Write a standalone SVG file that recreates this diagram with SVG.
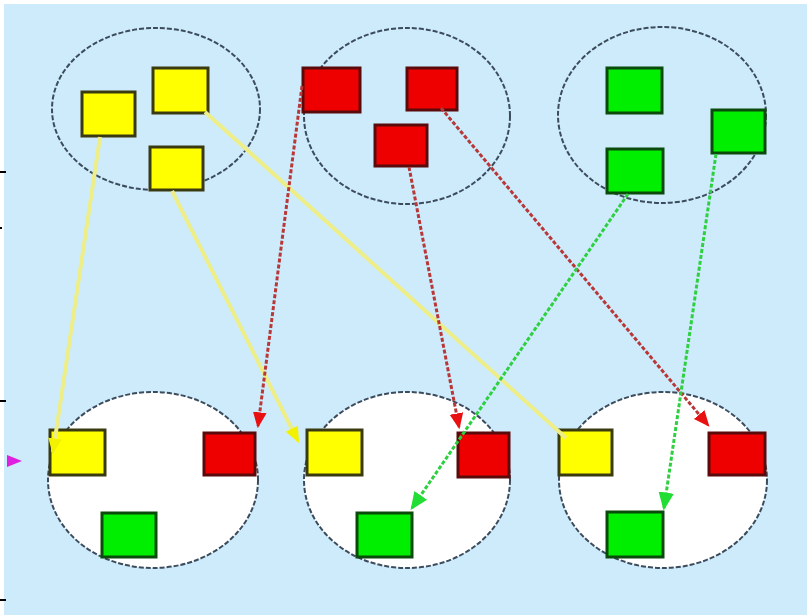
<svg xmlns="http://www.w3.org/2000/svg" width="807" height="615" viewBox="0 0 807 615">
<style>
.grp{fill:none;stroke:#3c4c5c;stroke-width:2;stroke-dasharray:5 2}
.grpw{fill:#ffffff;stroke:#3c4c5c;stroke-width:2;stroke-dasharray:5 2}
.y{fill:#ffff00;stroke:#3a3a10;stroke-width:3}
.r{fill:#ee0000;stroke:#5a0a0a;stroke-width:3}
.g{fill:#00ee00;stroke:#0a4a0a;stroke-width:3}
.cy{fill:none;stroke:#eeee88;stroke-width:4}
.cr{fill:none;stroke:#b83838;stroke-width:3;stroke-dasharray:4 2}
.cg{fill:none;stroke:#2ed040;stroke-width:3;stroke-dasharray:4 2}
.tick{stroke:#000000;stroke-width:2}
</style>
<defs>
<marker id="ay" markerWidth="16" markerHeight="16" refX="12" refY="6" orient="auto" markerUnits="userSpaceOnUse" viewBox="0 0 14 12"><path d="M0,0 L14,6 L0,12 Z" fill="#f2f200"/></marker>
<marker id="ar" markerWidth="16" markerHeight="16" refX="12" refY="6" orient="auto" markerUnits="userSpaceOnUse" viewBox="0 0 14 12"><path d="M0,0 L14,6 L0,12 Z" fill="#e81010"/></marker>
<marker id="ag" markerWidth="18" markerHeight="18" refX="12" refY="6" orient="auto" markerUnits="userSpaceOnUse" viewBox="0 0 14 12"><path d="M0,0 L14,6 L0,12 Z" fill="#22dd33"/></marker>
</defs>
<rect x="0" y="0" width="807" height="615" fill="#ffffff"/>
<rect x="4" y="4" width="803" height="611" fill="#cdebfb"/>
<g id="ticks">
<line class="tick" x1="0" y1="172" x2="6" y2="172"/>
<line class="tick" x1="0" y1="228" x2="2" y2="228"/>
<line class="tick" x1="0" y1="401" x2="6" y2="401"/>
<line class="tick" x1="0" y1="600" x2="6" y2="600"/>
</g>
<g id="group-top-yellow">
<ellipse class="grp" cx="156" cy="109" rx="104" ry="81"/>
<rect id="ty1" class="y" x="82" y="92" width="53" height="44"/>
<rect id="ty2" class="y" x="153" y="68" width="55" height="45"/>
<rect id="ty3" class="y" x="150" y="147" width="53" height="43"/>
</g>
<g id="group-top-red">
<ellipse class="grp" cx="407" cy="116" rx="103" ry="88"/>
<rect id="tr1" class="r" x="303" y="68" width="57" height="44"/>
<rect id="tr2" class="r" x="407" y="68" width="50" height="42"/>
<rect id="tr3" class="r" x="375" y="125" width="52" height="41"/>
</g>
<g id="group-top-green">
<ellipse class="grp" cx="662" cy="115" rx="104" ry="88"/>
<rect id="tg1" class="g" x="607" y="68" width="55" height="45"/>
<rect id="tg2" class="g" x="712" y="110" width="53" height="43"/>
<rect id="tg3" class="g" x="607" y="149" width="56" height="44"/>
</g>
<g id="group-bottom-1">
<ellipse class="grpw" cx="153" cy="480" rx="105" ry="88"/>
<rect id="b1y" class="y" x="50" y="430" width="55" height="45"/>
<rect id="b1r" class="r" x="204" y="433" width="51" height="42"/>
<rect id="b1g" class="g" x="102" y="513" width="54" height="44"/>
</g>
<g id="group-bottom-2">
<ellipse class="grpw" cx="407" cy="480" rx="103" ry="88"/>
<rect id="b2y" class="y" x="307" y="430" width="55" height="45"/>
<rect id="b2r" class="r" x="458" y="433" width="51" height="44"/>
<rect id="b2g" class="g" x="357" y="513" width="55" height="44"/>
</g>
<g id="group-bottom-3">
<ellipse class="grpw" cx="663" cy="480" rx="104" ry="88"/>
<rect id="b3y" class="y" x="559" y="430" width="53" height="45"/>
<rect id="b3r" class="r" x="709" y="433" width="56" height="42"/>
<rect id="b3g" class="g" x="607" y="512" width="56" height="45"/>
</g>
<g id="connectors">
<path class="cy" d="M100,137 L53,452" marker-end="url(#ay)"/>
<path class="cy" d="M172,191 L298,441" marker-end="url(#ay)"/>
<path class="cy" d="M205,112 L566,438"/>
<path class="cr" d="M302,86 L258,426" marker-end="url(#ar)"/>
<path class="cr" d="M409,167 L459,427" marker-end="url(#ar)"/>
<path class="cr" d="M441,108 L708,425" marker-end="url(#ar)"/>
<path class="cg" d="M628,194 L412,508" marker-end="url(#ag)"/>
<path class="cg" d="M716,154 L664,508" marker-end="url(#ag)"/>
<path d="M7,455 L22,461 L7,467 Z" fill="#e020e0"/>
</g>
</svg>
